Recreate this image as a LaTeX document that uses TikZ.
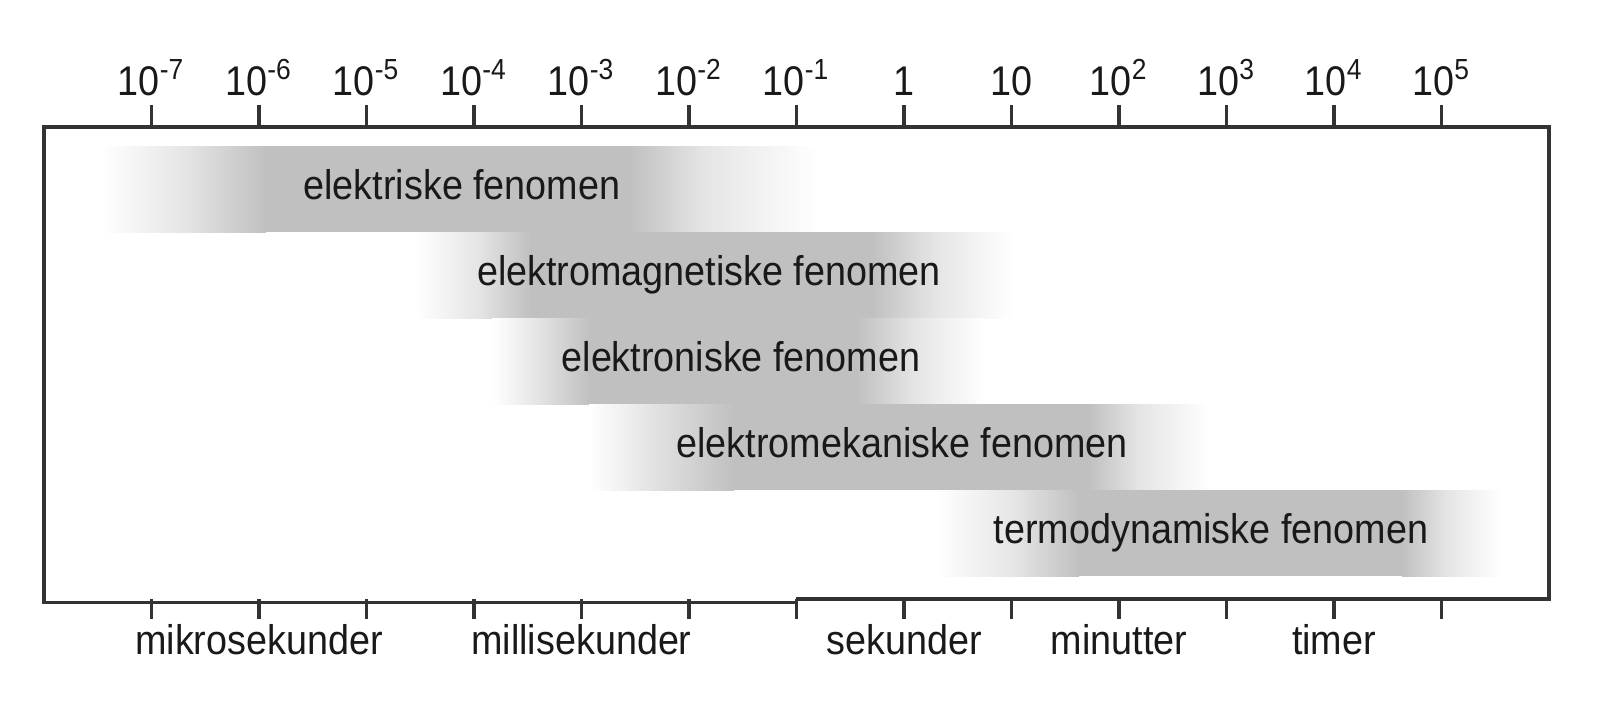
\documentclass[tikz,border=0pt]{standalone}
\usepackage{fontspec}
\setmainfont[FakeStretch=0.91]{Liberation Sans}
\usetikzlibrary{positioning}
\definecolor{axisgray}{HTML}{333333}
\definecolor{bandgray}{HTML}{C0C0C0}
\definecolor{fadegray}{HTML}{E4E4E4}
\tikzstyle{axisline}=[%
      draw=axisgray, line width=0.9pt, line join=miter
]
\tikzstyle{tickmark}=[%
      draw=axisgray, line width=0.9pt
]
\tikzstyle{scalelbl}=[%
      inner sep=0pt, anchor=base, text=black!90, font=\fontsize{11.8}{13}\selectfont
]
\tikzstyle{phen}=[%
      inner sep=0pt, anchor=base, text=black!90, font=\fontsize{11.8}{13}\selectfont
]
% one shaded band: top y, then x of fade start, fade, core start, core end, fade, fade end
\newcommand{\fenband}[7]{%
  \shade[left color=white, right color=fadegray] (#2,#1) rectangle (#3+1,#1+86);
  \shade[left color=fadegray, right color=bandgray] (#3,#1) rectangle (#4+1,#1+86);
  \fill[bandgray] (#4,#1) rectangle (#5,#1+86);
  \shade[left color=bandgray, right color=fadegray] (#5-1,#1) rectangle (#6,#1+86);
  \shade[left color=fadegray, right color=white] (#6-1,#1) rectangle (#7,#1+86);
}

\begin{document}
\begin{tikzpicture}[x=0.1mm, y=-0.1mm]
\useasboundingbox (0,0) rectangle (1600,717);

% bands
\fenband{146}{101}{188}{265}{630}{702}{818}
\fenband{232}{416}{479}{530}{873}{933}{1013}
\fenband{318}{492}{538}{589}{857}{913}{985}
\fenband{404}{589}{649}{733}{1089}{1138}{1210}
\fenband{490}{936}{1017}{1078}{1403}{1446}{1500}

\node[phen] (elektrisk) at (462,199) {elektriske fenomen};
\node[phen] (elmagn) at (709,285) {elektromagnetiske fenomen};
\node[phen] (elektron) at (741,371) {elektroniske fenomen};
\node[phen] (elmek) at (902,457) {elektromekaniske fenomen};
\node[phen] (termo) at (1211,543) {termodynamiske fenomen};

% frame
\draw[axisline] (795.7,599) -- (1549,599) -- (1549,127) -- (44,127) -- (44,602.5) -- (795.7,602.5);

% ticks and scale
\foreach \lab [count=\k] in {10\textsuperscript{-7}, 10\textsuperscript{-6}, 10\textsuperscript{-5},
    10\textsuperscript{-4}, 10\textsuperscript{-3}, 10\textsuperscript{-2}, 10\textsuperscript{-1},
    1, 10, 10\textsuperscript{2}, 10\textsuperscript{3}, 10\textsuperscript{4}, 10\textsuperscript{5}}{
  \draw[tickmark] (44+107.5*\k,127) -- ++(0,-22);
  \draw[tickmark] (44+107.5*\k,599) -- (44+107.5*\k,619);
  \node[scalelbl] (top\k) at (44+107.5*\k,95) {\lab};
}

\node[scalelbl] (mikro) at (259,654) {mikrosekunder};
\node[scalelbl] (milli) at (581.5,654) {millisekunder};
\node[scalelbl] (sek) at (904,654) {sekunder};
\node[scalelbl] (minut) at (1119,654) {minutter};
\node[scalelbl] (timer) at (1334,654) {timer};
\end{tikzpicture}
\end{document}
